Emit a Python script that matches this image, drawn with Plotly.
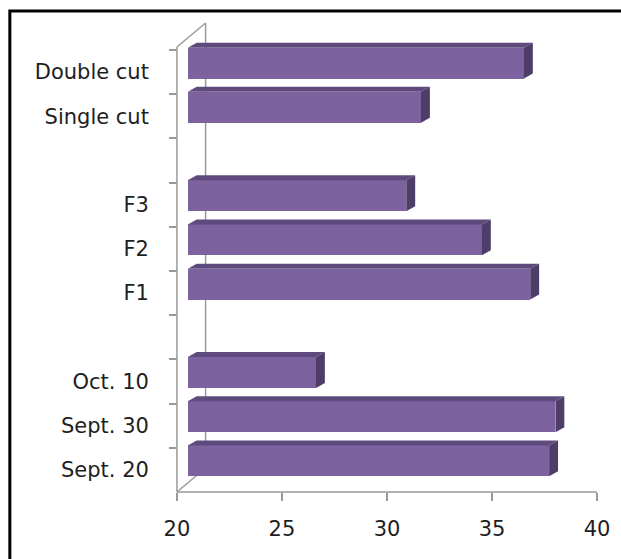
import plotly.graph_objects as go

# ---- data ----
categories = ["Sept. 20", "Sept. 30", "Oct. 10", "", "F1", "F2", "F3", "", "Single cut", "Double cut"]
values = [37.2, 37.5, 26.1, None, 36.3, 34.0, 30.4, None, 31.1, 36.0]
x_ticks = [20, 25, 30, 35, 40]
x_min = 20
x_max = 40

# ---- geometry / style ----
W, H = 621, 559
L, R, T, B = 170, 11, 20, 62
pw = W - L - R
ph = H - T - B
ppu = 21.25      # px per x unit
slot = 44.2      # px per category slot
pad_l, pad_b = 7, 5   # px of plot area left of / below the front axes
x_range = [x_min - pad_l / ppu, x_min - pad_l / ppu + pw / ppu]
y_range = [-0.5 - pad_b / slot, -0.5 - pad_b / slot + ph / slot]

# depth plane where bars sit (shifted right/up)
bdx, bdy = 11, 9
x2_range = [r - bdx / ppu for r in x_range]
y2_range = [r - bdy / slot for r in y_range]

# bar extrusion
fdx, fdy = 9 / ppu, 5 / slot
half = 0.35

FRONT = "#7D62A0"
TOP = "#5E4A7C"
SIDE = "#4E3C69"
AX = "#9a9a9a"
TXT = "#1e1e1e"
FONT = "DejaVu Sans"
FS = 21

positions = list(range(len(categories)))
bar_pos = [p for p, v in zip(positions, values) if v is not None]
bar_val = [v for v in values if v is not None]

fig = go.Figure()

# top and side faces
for p, v in zip(bar_pos, bar_val):
    yt, yb = p + half, p - half
    fig.add_trace(go.Scatter(
        x=[x_min, x_min + fdx, v + fdx, v, x_min],
        y=[yt, yt + fdy, yt + fdy, yt, yt],
        mode="lines", fill="toself", fillcolor=TOP, line=dict(width=0, color=TOP),
        xaxis="x2", yaxis="y2", hoverinfo="skip", showlegend=False))
    fig.add_trace(go.Scatter(
        x=[v, v, v + fdx, v + fdx, v],
        y=[yb, yt, yt + fdy, yb + fdy, yb],
        mode="lines", fill="toself", fillcolor=SIDE, line=dict(width=0, color=SIDE),
        xaxis="x2", yaxis="y2", hoverinfo="skip", showlegend=False))

# front faces
fig.add_trace(go.Bar(
    y=bar_pos, x=[v - x_min for v in bar_val], base=x_min, orientation="h",
    width=2 * half, marker=dict(color=FRONT, line=dict(width=0)),
    xaxis="x2", yaxis="y2", showlegend=False))

# decorations: axes lines & 3D wall
wdx, wdy = 29 / ppu, 24 / slot
ytop = 9.5 + 3 / slot
lines = [
    (x_min, -0.5, x_max, -0.5),
    (x_min, -0.5, x_min, ytop),
    (x_min, -0.5, x_min + wdx, -0.5 + wdy),
    (x_min, ytop, x_min + wdx, ytop + wdy),
    (x_min + wdx, -0.5 + wdy, x_min + wdx, ytop + wdy),
]
shapes = []
for x0, y0, x1, y1 in lines:
    shapes.append(dict(type="line", xref="x", yref="y", x0=x0, y0=y0, x1=x1, y1=y1,
                       line=dict(color=AX, width=1.5), layer="below"))

# outer border (right/bottom edges fall outside the picture)
shapes.append(dict(type="rect", xref="paper", yref="paper",
                   x0=(8 - L) / pw, x1=(W + 10 - L) / pw,
                   y0=-(H + 10 - (T + ph)) / ph, y1=(T + ph - 11) / ph,
                   line=dict(color="black", width=3), fillcolor="rgba(0,0,0,0)", layer="above"))

x_axis_pos = pad_b / ph
y_axis_pos = pad_l / pw

fig.update_layout(
    width=W, height=H,
    margin=dict(l=L, r=R, t=T, b=B, pad=0),
    paper_bgcolor="white", plot_bgcolor="white",
    font=dict(family=FONT, size=FS, color=TXT),
    showlegend=False,
    shapes=shapes,
    bargap=0,
    xaxis=dict(range=x_range, tickmode="array", tickvals=x_ticks, ticks="outside",
               anchor="free", position=x_axis_pos,
               ticklen=8, tickcolor=AX, tickwidth=1.5, showgrid=False, zeroline=False,
               showline=False, ticklabelstandoff=10, tickfont=dict(size=FS, color=TXT)),
    yaxis=dict(range=y_range, tickmode="array",
               anchor="free", position=y_axis_pos,
               tickvals=[p for p, c in zip(positions, categories) if c],
               ticktext=[c for c in categories if c],
               ticks="", showgrid=False, zeroline=False, showline=False,
               ticklabelstandoff=28, tickfont=dict(size=FS, color=TXT),
               minor=dict(tickmode="array",
                          tickvals=[p + 0.5 for p in positions],
                          ticks="outside", ticklen=8, tickcolor=AX, tickwidth=1.5,
                          showgrid=False)),
    xaxis2=dict(range=x2_range, overlaying="x", visible=False),
    yaxis2=dict(range=y2_range, overlaying="y", visible=False),
)

fig.write_html("out.html")
